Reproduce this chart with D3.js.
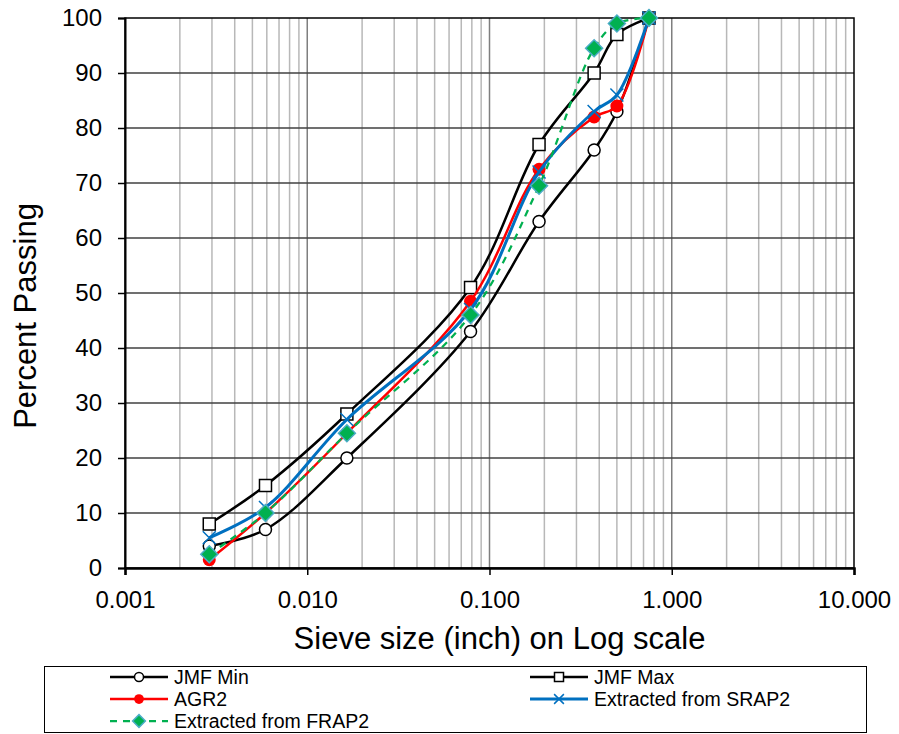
<!DOCTYPE html>
<html>
<head>
<meta charset="utf-8">
<script src="https://cdn.jsdelivr.net/npm/d3@7"></script>
<style>
  body { margin: 0; background: #fff; }
  text { font-family: "Liberation Sans", Arial, sans-serif; fill: #000; }
</style>
</head>
<body>
<div id="viz"></div>
<script>
const width = 899;
const height = 734;
const margin = {top: 18, right: 45, bottom: 166, left: 125};

// Sieve sizes (inch)
const sieves = [0.0029, 0.0059, 0.0165, 0.0787, 0.187, 0.375, 0.5, 0.75];

// Percent passing per series
const jmfMin = [4, 7, 20, 43, 63, 76, 83, 100];
const jmfMax = [8, 15, 28, 51, 77, 90, 97, 100];
const agr2 = [1.5, 10, 24.5, 48.5, 72.5, 82, 84, 100];
const srap2 = [5.5, 11, 27, 47, 72, 83, 86, 100];
const frap2 = [2.5, 10, 24.5, 46, 69.5, 94.5, 99, 100];

const xTicks = [0.001, 0.01, 0.1, 1, 10];
const xTickLabels = ['0.001', '0.010', '0.100', '1.000', '10.000'];
const yTicks = d3.range(0, 101, 10);

const series = [
  {name: 'JMF Min', values: jmfMin, color: '#000', marker: 'circle', dash: null, width: 2.5},
  {name: 'JMF Max', values: jmfMax, color: '#000', marker: 'square', dash: null, width: 2.5},
  {name: 'AGR2', values: agr2, color: '#ff0000', marker: 'dot', dash: null, width: 2.5},
  {name: 'Extracted from SRAP2', values: srap2, color: '#0070c0', marker: 'cross', dash: null, width: 3},
  {name: 'Extracted from FRAP2', values: frap2, color: '#00b050', marker: 'diamond', dash: '7,6', width: 2.25}
];

const svg = d3.select('#viz')
  .append('svg')
    .attr('width', width)
    .attr('height', height);

const xScale = d3.scaleLog()
  .domain([0.001, 10])
  .range([margin.left, width - margin.right]);
const yScale = d3.scaleLinear()
  .domain([0, 100])
  .range([height - margin.bottom, margin.top]);

const plotBottom = height - margin.bottom;

// Minor vertical grid
const minorX = [];
[0.001, 0.01, 0.1, 1].forEach(dec => {
  for (let k = 2; k <= 9; k++) minorX.push(dec * k);
});
svg.append('g')
  .selectAll('line')
  .data(minorX)
  .join('line')
    .attr('x1', d => xScale(d)).attr('x2', d => xScale(d))
    .attr('y1', margin.top).attr('y2', plotBottom)
    .attr('stroke', '#b8b8b8')
    .attr('stroke-width', 1.5);

// Major vertical grid
svg.append('g')
  .selectAll('line')
  .data(xTicks.slice(1, -1))
  .join('line')
    .attr('x1', d => xScale(d)).attr('x2', d => xScale(d))
    .attr('y1', margin.top).attr('y2', plotBottom)
    .attr('stroke', '#7f7f7f')
    .attr('stroke-width', 1.5);

// Horizontal grid
svg.append('g')
  .selectAll('line')
  .data(yTicks.slice(1, -1))
  .join('line')
    .attr('x1', margin.left).attr('x2', width - margin.right)
    .attr('y1', d => yScale(d)).attr('y2', d => yScale(d))
    .attr('stroke', '#404040')
    .attr('stroke-width', 1.5);

// Plot border
svg.append('rect')
  .attr('x', margin.left)
  .attr('y', margin.top)
  .attr('width', width - margin.right - margin.left)
  .attr('height', plotBottom - margin.top)
  .attr('fill', 'none')
  .attr('stroke', '#000')
  .attr('stroke-width', 1.5);

// Axes
const xAxis = d3.axisBottom(xScale)
  .tickValues(xTicks)
  .tickFormat((d, i) => xTickLabels[i])
  .tickSize(7)
  .tickPadding(16);
svg.append('g')
  .attr('transform', `translate(0,${plotBottom})`)
  .call(xAxis)
  .call(g => g.select('.domain').attr('stroke-width', 2.5))
  .call(g => g.selectAll('.tick line').attr('stroke-width', 1.5))
  .call(g => g.selectAll('text').style('font-size', '24px').attr('font-family', null));

const yAxis = d3.axisLeft(yScale)
  .tickValues(yTicks)
  .tickSize(7)
  .tickPadding(16);
svg.append('g')
  .attr('transform', `translate(${margin.left},0)`)
  .call(yAxis)
  .call(g => g.select('.domain').attr('stroke-width', 2))
  .call(g => g.selectAll('.tick line').attr('stroke-width', 1.5))
  .call(g => g.selectAll('text').style('font-size', '24px').attr('font-family', null));

// Axis titles
svg.append('text')
  .attr('x', (margin.left + width - margin.right) / 2 + 10)
  .attr('y', 649)
  .attr('text-anchor', 'middle')
  .style('font-size', '31px')
  .text('Sieve size (inch) on Log scale');
svg.append('text')
  .attr('transform', `translate(36,316) rotate(-90)`)
  .attr('text-anchor', 'middle')
  .style('font-size', '31px')
  .text('Percent Passing');

// Lines
const line = d3.line()
  .x(d => xScale(d.x))
  .y(d => yScale(d.y))
  .curve(d3.curveCatmullRom.alpha(0.5));

function drawMarker(g, s, x, y, scale) {
  const k = scale || 1;
  if (s.marker === 'circle') {
    g.append('circle').attr('cx', x).attr('cy', y).attr('r', 6 * k)
      .attr('fill', '#fff').attr('stroke', '#000').attr('stroke-width', 1.5);
  } else if (s.marker === 'square') {
    g.append('rect').attr('x', x - 6 * k).attr('y', y - 6 * k)
      .attr('width', 12 * k).attr('height', 12 * k)
      .attr('fill', '#fff').attr('stroke', '#000').attr('stroke-width', 1.5);
  } else if (s.marker === 'dot') {
    g.append('circle').attr('cx', x).attr('cy', y).attr('r', 6.5 * k)
      .attr('fill', s.color);
  } else if (s.marker === 'cross') {
    const r = 6.5 * k;
    g.append('path')
      .attr('d', `M${x - r},${y - r}L${x + r},${y + r}M${x - r},${y + r}L${x + r},${y - r}`)
      .attr('stroke', s.color).attr('stroke-width', 1.5);
  } else if (s.marker === 'diamond') {
    const r = 8.5 * k;
    g.append('path')
      .attr('d', `M${x},${y - r}L${x + r},${y}L${x},${y + r}L${x - r},${y}Z`)
      .attr('fill', s.color).attr('stroke', '#4bacc6').attr('stroke-width', 1.5);
  }
}

series.forEach(s => {
  const pts = sieves.map((x, i) => ({x: x, y: s.values[i]}));
  const g = svg.append('g').attr('class', 'series');
  g.append('path')
    .attr('d', line(pts))
    .attr('fill', 'none')
    .attr('stroke', s.color)
    .attr('stroke-width', s.width)
    .attr('stroke-dasharray', s.dash);
  pts.forEach(p => drawMarker(g, s, xScale(p.x), yScale(p.y)));
});

// Legend
const legend = svg.append('g').attr('class', 'legend-group');
legend.append('rect')
  .attr('x', 44.5).attr('y', 666.5)
  .attr('width', 822).attr('height', 66)
  .attr('fill', '#fff')
  .attr('stroke', '#000')
  .attr('stroke-width', 1);

const legendPos = [
  {x: 110, y: 677},
  {x: 530, y: 677},
  {x: 110, y: 699},
  {x: 530, y: 699},
  {x: 110, y: 721}
];
series.forEach((s, i) => {
  const p = legendPos[i];
  const g = legend.append('g');
  g.append('line')
    .attr('x1', p.x).attr('x2', p.x + 58)
    .attr('y1', p.y).attr('y2', p.y)
    .attr('stroke', s.color)
    .attr('stroke-width', s.width)
    .attr('stroke-dasharray', s.dash);
  drawMarker(g, s, p.x + 29, p.y, 0.75);
  g.append('text')
    .attr('x', p.x + 64)
    .attr('y', p.y + 7)
    .style('font-size', '19.5px')
    .text(s.name);
});
</script>
</body>
</html>
